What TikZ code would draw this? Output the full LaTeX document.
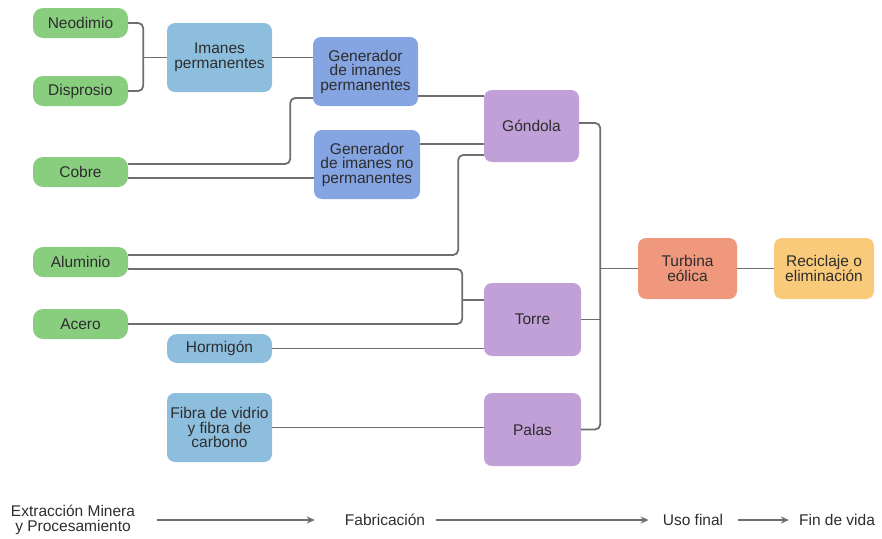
\documentclass[tikz,border=0pt]{standalone}
\usepackage{fontspec}
\setmainfont{Liberation Sans}
\usetikzlibrary{arrows.meta,calc}
\definecolor{cgreen}{RGB}{136,206,126}
\definecolor{clblue}{RGB}{142,190,222}
\definecolor{cmblue}{RGB}{132,164,226}
\definecolor{cpurple}{RGB}{192,160,214}
\definecolor{csalmon}{RGB}{240,152,126}
\definecolor{corange}{RGB}{248,202,122}
\definecolor{cline}{RGB}{110,110,110}
\definecolor{ctext}{RGB}{45,45,45}
\tikzset{
  bx/.style={rounded corners=8pt, inner sep=0pt, align=center, text=ctext,
    font=\fontsize{15.5}{14.5}\selectfont},
  pill/.style={bx, fill=cgreen, minimum width=95pt, minimum height=30pt, rounded corners=10pt},
  conn/.style={draw=cline, line width=1.8pt, rounded corners=5pt},
  lab/.style={align=center, text=ctext, font=\fontsize{15.5}{15}\selectfont, inner sep=0pt},
  arr/.style={draw=cline, line width=1.8pt, -{Stealth[length=8pt,width=7pt]}}
}
\begin{document}
\begin{tikzpicture}[x=1pt,y=-1pt]
\useasboundingbox (0,0) rectangle (882,538);
% materials
\node[pill] (neo) at (80.5,23) {Neodimio};
\node[pill] (dis) at (80.5,91) {Disprosio};
\node[pill] (cob) at (80.5,172) {Cobre};
\node[pill] (alu) at (80.5,262) {Aluminio};
\node[pill] (ace) at (80.5,324) {Acero};
% components
\node[bx, fill=clblue, minimum width=105pt, minimum height=69pt] (ima) at (219.5,57.5) {Imanes\\permanentes};
\node[bx, fill=cmblue, minimum width=105pt, minimum height=69pt] (gp) at (365.5,71.5) {Generador\\de imanes\\permanentes};
\node[bx, fill=cmblue, minimum width=106pt, minimum height=69pt] (gnp) at (367,164.5) {Generador\\de imanes no\\permanentes};
\node[bx, fill=clblue, minimum width=105pt, minimum height=29pt, rounded corners=10pt] (hor) at (219.5,348.5) {Hormigón};
\node[bx, fill=clblue, minimum width=105pt, minimum height=69pt] (fib) at (219.5,427.5) {Fibra de vidrio\\y fibra de\\carbono};
% assemblies
\node[bx, fill=cpurple, minimum width=95pt, minimum height=72pt] (gon) at (531.5,126) {Góndola};
\node[bx, fill=cpurple, minimum width=97pt, minimum height=73pt] (tor) at (532.5,319.5) {Torre};
\node[bx, fill=cpurple, minimum width=97pt, minimum height=73pt] (pal) at (532.5,429.5) {Palas};
\node[bx, fill=csalmon, minimum width=99pt, minimum height=61pt] (tur) at (687.5,268.5) {Turbina\\eólica};
\node[bx, fill=corange, minimum width=100pt, minimum height=61pt] (rec) at (824,268.5) {Reciclaje o\\eliminación};
% connectors
\draw[conn] (neo.east) -- ++(15,0) |- (dis.east);
\draw[conn] (ima.west) -- ++(-24,0);
\draw[conn] (ima.east) -- (ima.east -| gp.west);
\draw[conn] ([yshift=-24.5pt]gp.east) -- ([yshift=-24.5pt]gp.east -| gon.west);
\draw[conn] ([yshift=8pt]cob.east) -- ++(162,0) |- ([yshift=-26.5pt]gp.west);
\draw[conn] ([yshift=-6pt]cob.east) -- ([yshift=-6pt]cob.east -| gnp.west);
\draw[conn] ([yshift=20.5pt]gnp.east) -- ([yshift=20.5pt]gnp.east -| gon.west);
\draw[conn] ([yshift=7pt]alu.east) -- ++(330,0) |- ([yshift=-29pt]gon.west);
\draw[conn] ([yshift=-7pt]alu.east) -- ++(334,0) |- (ace.east);
\draw[conn] ([yshift=19.5pt]tor.west) -- ++(-22,0);
\draw[conn] (hor.east) -- (hor.east -| tor.west);
\draw[conn] (fib.east) -- (fib.east -| pal.west);
\draw[conn] ([yshift=3pt]gon.east) -- ++(21,0) |- (pal.east);
\draw[conn] (tor.east) -- ++(19,0);
\draw[conn] (tur.west) -- ++(-38,0);
\draw[conn] (tur.east) -- (rec.west);
% stages
\node[lab] (s1) at (73,520) {Extracción Minera\\y Procesamiento};
\node[lab] (s2) at (385,520) {Fabricación};
\node[lab] (s3) at (693,520) {Uso final};
\node[lab] (s4) at (837,520) {Fin de vida};
\draw[arr] ([xshift=22pt]s1.east) -- ([xshift=-30pt]s2.west);
\draw[arr] ([xshift=11pt]s2.east) -- ([xshift=-14pt]s3.west);
\draw[arr] ([xshift=15pt]s3.east) -- ([xshift=-10pt]s4.west);
\end{tikzpicture}
\end{document}
